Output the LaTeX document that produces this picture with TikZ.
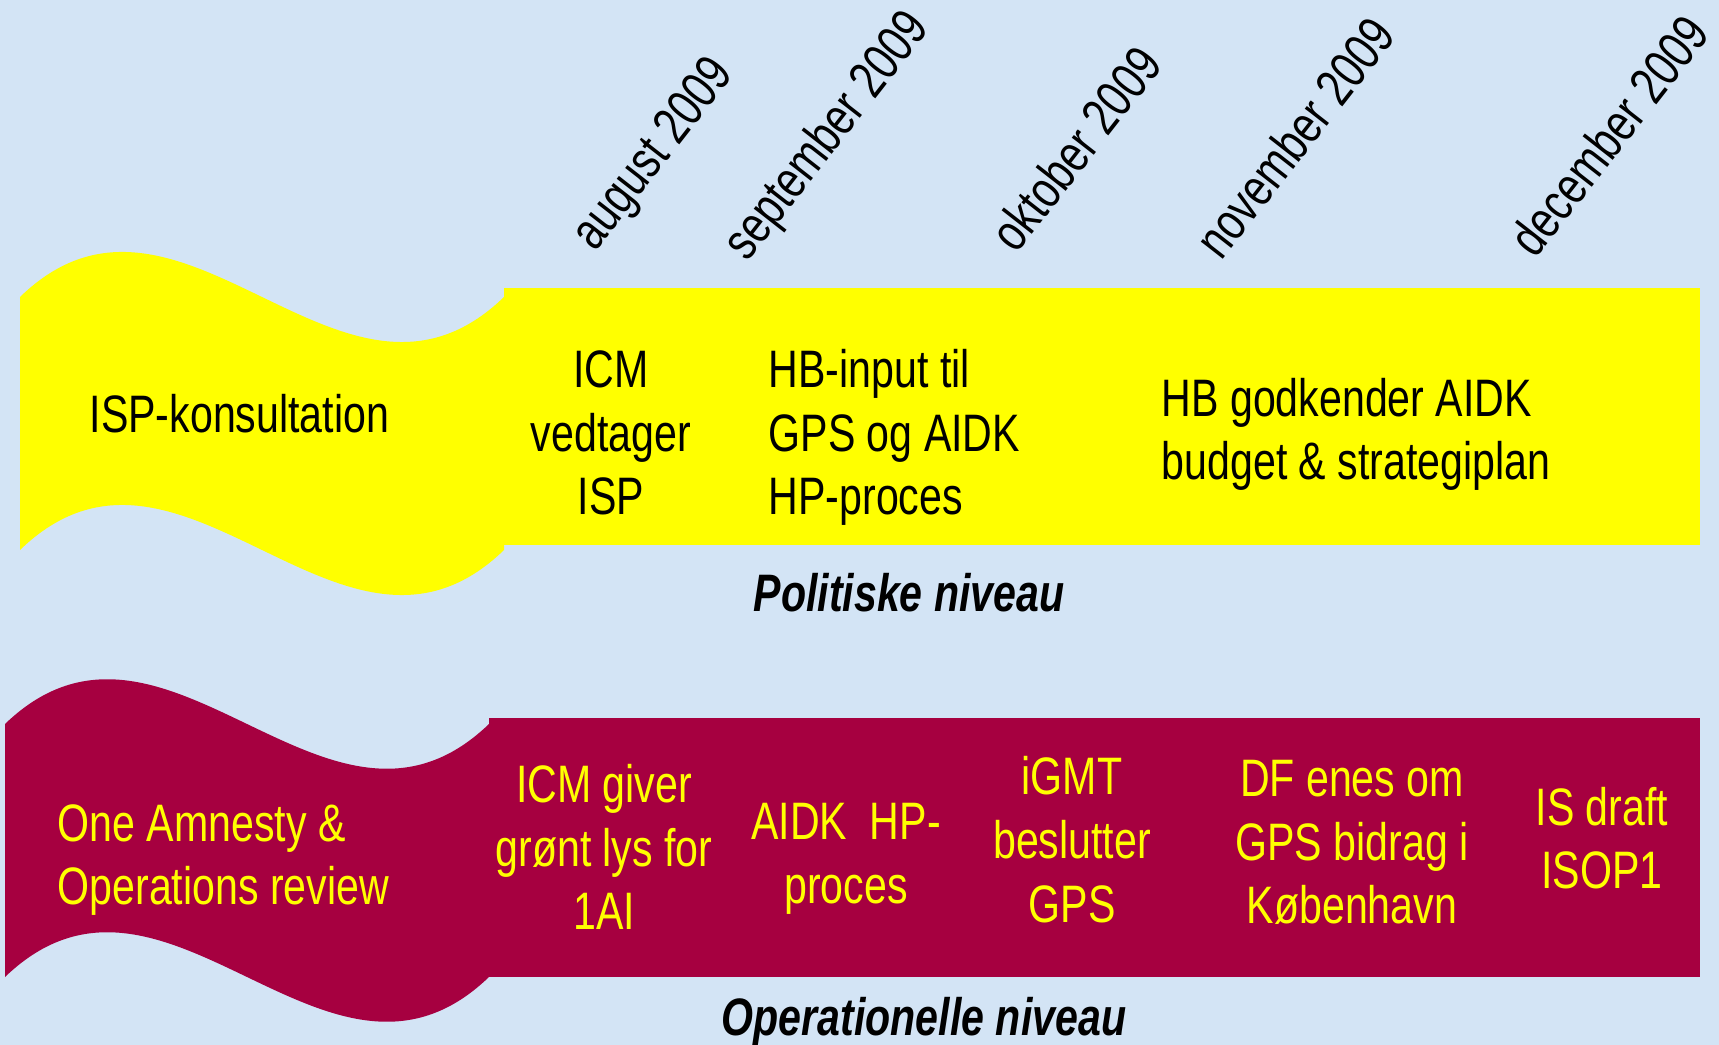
\documentclass[tikz,border=0pt]{standalone}
\usepackage{fontspec}
\setmainfont{Liberation Sans}[FakeStretch=0.78]
\definecolor{sky}{RGB}{211,228,245}
\definecolor{wine}{RGB}{166,0,64}
\definecolor{lemon}{RGB}{255,255,0}

\begin{document}
\begin{tikzpicture}[x=0.1mm,y=-0.1mm,
    every node/.style={inner sep=0pt,font=\fontsize{15}{18.1}\selectfont},
    month/.style={rotate=52,anchor=base west},
    inyellow/.style={text=black,align=center,anchor=base},
    inred/.style={text=lemon,align=center,anchor=base},
    level/.style={font=\fontsize{15}{18.1}\selectfont\bfseries\itshape,anchor=base}]
    \useasboundingbox (0,0) rectangle (1719,1045);
    \fill[sky] (0,0) rectangle (1719,1045);
    \fill[lemon] (20,297) .. controls (181,141) and (343,453) .. (504,297) -- (504,550)
                 .. controls (343,706) and (181,394) .. (20,550) -- cycle;
    \fill[lemon] (504,288) rectangle (1700,545);
    \fill[wine]  (5,724) .. controls (166,569) and (328,879) .. (489,724) -- (489,977)
                 .. controls (328,1132) and (166,822) .. (5,977) -- cycle;
    \fill[wine]  (489,718) rectangle (1700,977);
    \node[month] (aug) at (595,253)  {august 2009};
    \node[month] (sep) at (747,263)  {september 2009};
    \node[month] (okt) at (1016,255) {oktober 2009};
    \node[month] (nov) at (1221,262) {november 2009};
    \node[month] (dec) at (1535,260) {december 2009};
    \node[inyellow,anchor=base west]            (isp)   at (89,433)   {ISP-konsultation};
    \node[inyellow]                             (icm)   at (611,515)  {ICM\\vedtager\\ISP};
    \node[inyellow,align=left,anchor=base west] (hbin)  at (768,515)  {HB-input til\\GPS og AIDK\\HP-proces};
    \node[inyellow,align=left,anchor=base west] (hbgod) at (1161,480) {HB godkender AIDK\\budget \& strategiplan};
    \node[level]                                (pol)   at (909,612)  {Politiske niveau};
    \node[inred,align=left,anchor=base west]    (one)   at (57,905)   {One Amnesty \&\\Operations review};
    \node[inred]                                (icmg)  at (604,930)  {ICM giver\\grønt lys for\\1AI};
    \node[inred]                                (aidk)  at (846,903)  {AIDK\ \ HP-\\proces};
    \node[inred]                                (igmt)  at (1072,922) {iGMT\\beslutter\\GPS};
    \node[inred]                                (dfen)  at (1352,924) {DF enes om\\GPS bidrag i\\København};
    \node[inred]                                (isd)   at (1602,889) {IS draft\\ISOP1};
    \node[level]                                (ope)   at (924,1035) {Operationelle niveau};
\end{tikzpicture}
\end{document}
